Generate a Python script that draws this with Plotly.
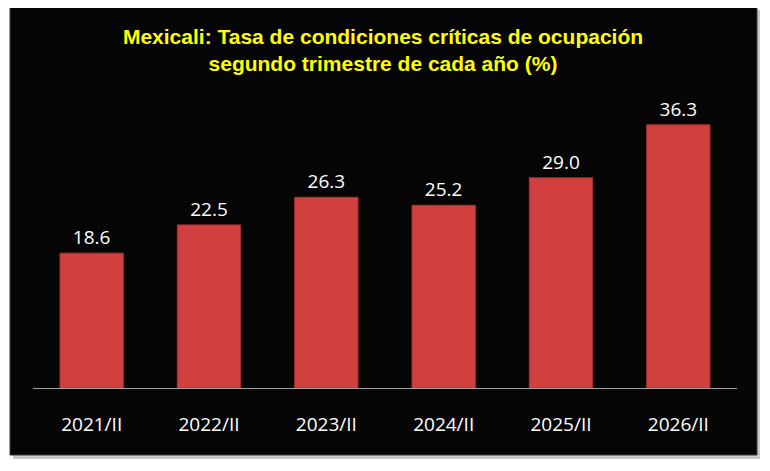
import plotly.graph_objects as go

periodos = ['2021/II', '2022/II', '2023/II', '2024/II', '2025/II', '2026/II']
tasa = [18.6, 22.5, 26.3, 25.2, 29.0, 36.3]
etiquetas = [f'{v:.1f}' for v in tasa]

# page body has an 8px margin, so work in reference pixels minus 8
OFF = 8
W, H = 770 - OFF, 471 - OFF

def px(x):
    return (x - OFF) / W

def py(y):
    return 1 - (y - OFF) / H

fig = go.Figure(go.Bar(
    x=periodos, y=tasa,
    text=etiquetas, textposition='outside',
    textfont=dict(color='white', size=19, family='Open Sans'),
    marker=dict(color='#d23f3f', line=dict(color='#a83030', width=1)),
    cliponaxis=False,
))

# black panel with light shadow
fig.add_shape(type='rect', xref='paper', yref='paper', layer='below',
              x0=px(13), x1=px(760), y0=py(459), y1=py(10),
              fillcolor='#c8c8c8', line_width=0)
fig.add_shape(type='rect', xref='paper', yref='paper', layer='below',
              x0=px(10), x1=px(757), y0=py(455), y1=py(6),
              fillcolor='#050505', line=dict(color='#3a3a3a', width=1))

fig.update_layout(
    width=W, height=H,
    margin=dict(l=0, r=0, t=0, b=0),
    paper_bgcolor='white', plot_bgcolor='rgba(0,0,0,0)',
    bargap=0.46,
    showlegend=False,
    title=dict(
        text='Mexicali: Tasa de condiciones críticas de ocupación<br>segundo trimestre de cada año (%)',
        x=px(383), xanchor='center', y=py(44), yanchor='top',
        font=dict(color='#ffff00', size=21, family='Liberation Sans, Arial', weight='bold'),
    ),
    xaxis=dict(
        domain=[px(33), px(737)],
        showgrid=False, zeroline=False,
        showline=True, linecolor='#a0a0a0', linewidth=1,
        ticks='outside', ticklen=19, tickcolor='rgba(0,0,0,0)',
        tickfont=dict(color='white', size=19, family='Open Sans'),
    ),
    yaxis=dict(
        domain=[py(388), py(98)], range=[0, 40],
        visible=False, showgrid=False,
    ),
)

fig.write_html('out.html')
